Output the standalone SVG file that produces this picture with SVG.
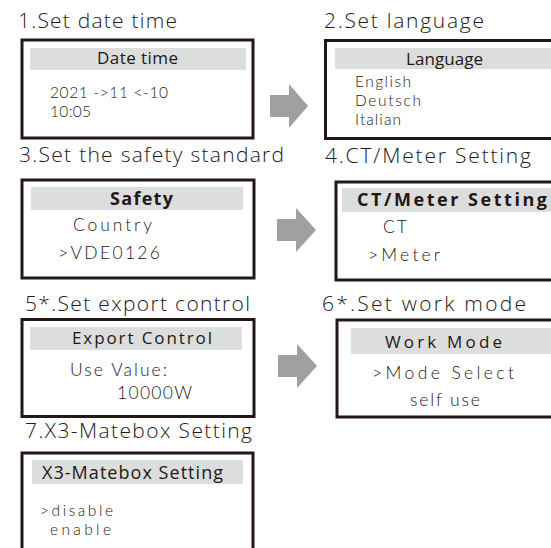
<svg xmlns="http://www.w3.org/2000/svg" width="551" height="548" viewBox="0 0 551 548">
<style>
.bg{fill:#ffffff}
.box{fill:#ffffff;stroke:#231815;stroke-width:3}
.hdr{fill:#dcdddd}
.t{font-family:"Open Sans","Noto Sans","DejaVu Sans",sans-serif;fill:#231815}
.ttl{font-size:21px;font-weight:300}
.h{font-size:17px}
.hb{font-size:18px;font-weight:700}
.b{font-family:Lato,"Open Sans",sans-serif;font-size:15.5px;font-weight:300}
.s{font-family:Lato,"Open Sans",sans-serif;font-size:17.5px;font-weight:300}
.arr{fill:#9fa0a0}
</style>
<rect class="bg" x="0" y="0" width="551" height="548"/>
<g id="connectors">
<polygon class="arr" points="270,95 289,95 289,84 308,106 289,128 289,117 270,117"/>
<polygon class="arr" points="277,219 296,219 296,208 316,230 296,252 296,241 277,241"/>
<polygon class="arr" points="278,355 297,355 297,344 317,366 297,388 297,377 278,377"/>
</g>
<g id="node1">
<text class="t ttl" x="18" y="28" textLength="159">1.Set date time</text>
<rect class="box" x="22" y="40" width="231" height="98"/>
<rect class="hdr" x="30" y="48" width="216" height="22"/>
<text class="t h" x="97" y="64" textLength="81">Date time</text>
<text class="t b" x="50" y="98" textLength="118">2021 -&gt;11 &lt;-10</text>
<text class="t b" x="50" y="117" textLength="41">10:05</text>
</g>
<g id="node2">
<text class="t ttl" x="324" y="28" textLength="160">2.Set language</text>
<rect class="box" x="325.5" y="40.5" width="250" height="98"/>
<rect class="hdr" x="335" y="48" width="216" height="21"/>
<text class="t h" x="406" y="65" textLength="77">Language</text>
<text class="t b" x="355" y="87" textLength="56">English</text>
<text class="t b" x="355" y="106" textLength="66">Deutsch</text>
<text class="t b" x="355" y="125" textLength="46">Italian</text>
</g>
<g id="node3">
<text class="t ttl" x="19" y="162" textLength="265">3.Set the safety standard</text>
<rect class="box" x="22" y="180" width="232" height="98"/>
<rect class="hdr" x="31" y="187" width="212" height="23"/>
<text class="t hb" x="110" y="205" textLength="63">Safety</text>
<text class="t s" x="73" y="231" textLength="79">Country</text>
<text class="t s" x="58" y="259" textLength="102">&gt;VDE0126</text>
</g>
<g id="node4">
<text class="t ttl" x="325" y="163" textLength="206">4.CT/Meter Setting</text>
<rect class="box" x="336" y="182" width="250" height="98"/>
<rect class="hdr" x="342" y="188" width="209" height="24"/>
<text class="t hb" x="357" y="206" font-size="19" textLength="190">CT/Meter Setting</text>
<text class="t s" x="383" y="233" textLength="24">CT</text>
<text class="t s" x="368" y="261" textLength="72">&gt;Meter</text>
</g>
<g id="node5">
<text class="t ttl" x="25" y="311" textLength="225">5*.Set export control</text>
<rect class="box" x="22" y="319.5" width="232" height="97"/>
<rect class="hdr" x="30" y="327" width="212" height="23"/>
<text class="t h" x="72" y="344" font-size="18" font-weight="500" textLength="140">Export Control</text>
<text class="t s" x="70" y="376" textLength="97">Use Value:</text>
<text class="t s" x="117" y="399" textLength="75">10000W</text>
</g>
<g id="node6">
<text class="t ttl" x="322" y="311" textLength="204">6*.Set work mode</text>
<rect class="box" x="337" y="320" width="250" height="97"/>
<rect class="hdr" x="351" y="328" width="200" height="26"/>
<text class="t h" x="385" y="348" font-size="19" font-weight="500" textLength="117">Work Mode</text>
<text class="t s" x="372" y="379" font-size="18.5" textLength="142">&gt;Mode Select</text>
<text class="t s" x="410" y="406" font-size="18.5" textLength="70">self use</text>
</g>
<g id="node7">
<text class="t ttl" x="25" y="438" textLength="227">7.X3-Matebox Setting</text>
<rect class="box" x="22" y="453" width="231" height="120"/>
<rect class="hdr" x="32" y="460" width="211" height="24"/>
<text class="t" x="42" y="479" font-size="18" font-weight="500" textLength="181">X3-Matebox Setting</text>
<text class="t b" x="40" y="516" textLength="73">&gt;disable</text>
<text class="t b" x="50" y="535" textLength="61">enable</text>
</g>
</svg>
